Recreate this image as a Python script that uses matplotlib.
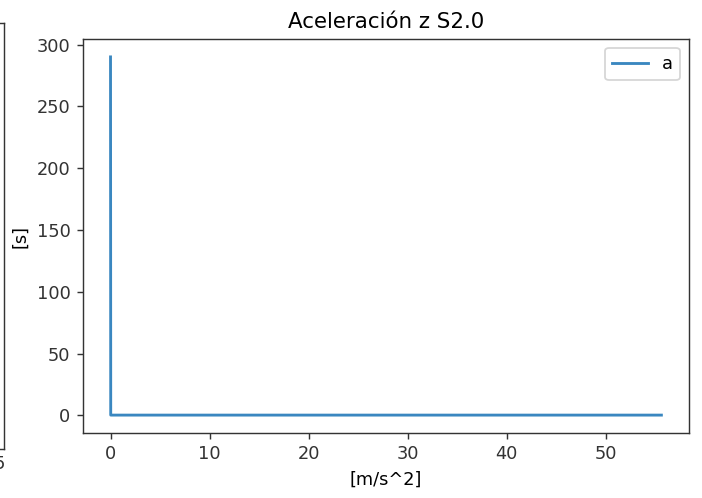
import matplotlib
matplotlib.use("Agg")
import matplotlib.pyplot as plt

# datos de la aceleracion (eje x = tiempo, eje y = aceleracion)
t = [0.0, 0.02, 55.6]
a = [290.0, 0.3, 0.3]

titulo = "Aceleración z S2.0"

DPI = 128
plt.rcParams["axes.edgecolor"] = "#333333"
plt.rcParams["xtick.color"] = "#333333"
plt.rcParams["ytick.color"] = "#333333"
fig = plt.figure(figsize=(702 / DPI, 498 / DPI), dpi=DPI)

# resto del subplot anterior, casi fuera del recorte
ax0 = fig.add_axes([-0.85, 0.0984, 0.8557, 0.8554])
ax0.set_xlim(0, 55.8)
ax0.set_xticks([55])
ax0.set_xticklabels(["55"])
ax0.tick_params(axis="x", length=0)
ax0.set_yticks([])

ax = fig.add_axes([0.1182, 0.1305, 0.8632, 0.7912])
ax.plot(t, a, label="a", color="#3a87c0", lw=1.6)
ax.set_title(titulo)
ax.set_xlabel("[m/s^2]")
ax.set_ylabel("[s]")
ax.legend(loc="upper right")

fig.savefig("out.png", dpi=DPI)
